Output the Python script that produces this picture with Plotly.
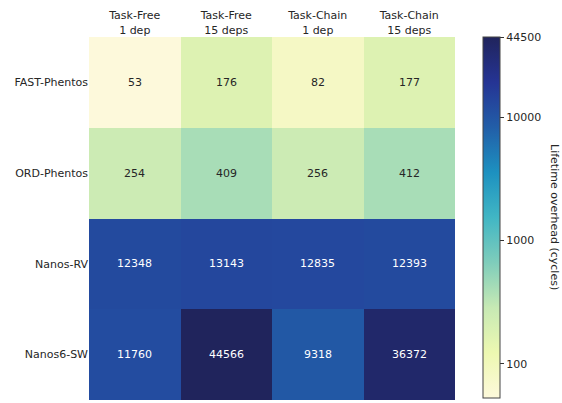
import numpy as np
import plotly.graph_objects as go

columns = ["Task-Free<br>1 dep", "Task-Free<br>15 deps", "Task-Chain<br>1 dep", "Task-Chain<br>15 deps"]
rows = ["FAST-Phentos", "ORD-Phentos", "Nanos-RV", "Nanos6-SW"]
fast_phentos = [53, 176, 82, 177]
ord_phentos = [254, 409, 256, 412]
nanos_rv = [12348, 13143, 12835, 12393]
nanos6_sw = [11760, 44566, 9318, 36372]
values = [fast_phentos, ord_phentos, nanos_rv, nanos6_sw]
cbar_ticks = [100, 1000, 10000, 44566]
cbar_labels = ["100", "1000", "10000", "44500"]
vmin, vmax = 53, 44566

ylgnbu = ["#fdf9db", "#edf8b1", "#c7e9b4", "#7fcdbb", "#41b6c4",
          "#1d91c0", "#225ea8", "#253494", "#20245c"]
colorscale = [[i / (len(ylgnbu) - 1), c] for i, c in enumerate(ylgnbu)]

z = np.log10(np.array(values, dtype=float))

fig = go.Figure()
fig.add_trace(go.Heatmap(
    z=z, x=list(range(len(columns))), y=list(range(len(rows))),
    colorscale=colorscale, zmin=np.log10(vmin), zmax=np.log10(vmax),
    showscale=True, hoverinfo="skip",
    colorbar=dict(
        x=(483 - 89) / 366, xanchor="left", xpad=0,
        y=1.0, yanchor="top", len=361 / 363, ypad=0,
        thickness=17, outlinecolor="#444444", outlinewidth=1,
        tickvals=[float(np.log10(v)) for v in cbar_ticks], ticktext=cbar_labels,
        ticks="outside", ticklen=4, tickcolor="#333333",
        tickfont=dict(family="DejaVu Sans", size=11, color="#262626"),
    ),
))

annotations = []
for i, row in enumerate(values):
    for j, v in enumerate(row):
        annotations.append(dict(
            x=j, y=i, xref="x", yref="y", text=str(v), showarrow=False,
            font=dict(family="DejaVu Sans", size=11,
                      color="#ffffff" if v > 5000 else "#262626"),
        ))
annotations.append(dict(
    x=(555 - 89) / 366, y=(400 - 217) / 363, xref="paper", yref="paper",
    xanchor="center", yanchor="middle",
    text="Lifetime overhead (cycles)", textangle=90, showarrow=False,
    font=dict(family="DejaVu Sans", size=11, color="#262626"),
))

fig.update_layout(
    width=562, height=403,
    margin=dict(l=89, r=107, t=37, b=3),
    paper_bgcolor="white", plot_bgcolor="white",
    font=dict(family="DejaVu Sans", size=11, color="#262626"),
    annotations=annotations,
    xaxis=dict(side="top", tickvals=list(range(len(columns))), ticktext=columns,
               showgrid=False, zeroline=False, ticks="", ticklen=0,
               tickfont=dict(size=11)),
    yaxis=dict(tickvals=list(range(len(rows))), ticktext=rows, autorange="reversed",
               showgrid=False, zeroline=False, ticks="", ticklen=0,
               tickfont=dict(size=11)),
)

fig.write_html("out.html")
